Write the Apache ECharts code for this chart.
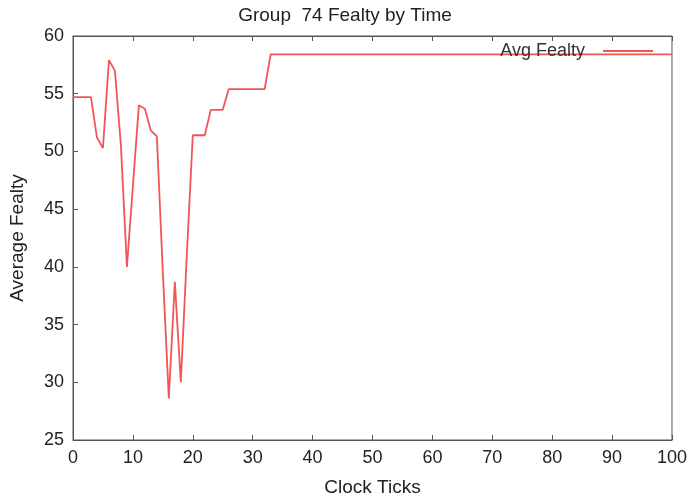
<!DOCTYPE html>
<html>
<head>
<meta charset="utf-8">
<script src="https://cdn.jsdelivr.net/npm/echarts@6/dist/echarts.min.js"></script>
<style>html,body{margin:0;padding:0;background:#fff;}#c{width:690px;height:502px;}</style>
</head>
<body>
<div id="c"></div>
<script>
var clockTicks = [0,1,2,3,4,5,6,7,8,9,10,11,12,13,14,15,16,17,18,19,20,21,22,23,24,25,26,27,28,29,30,31,32,33,100];
var avgFealty = [54.7,54.7,54.7,54.7,51.2,50.3,57.9,57.0,50.5,40.0,47.0,54.0,53.7,51.8,51.3,39.5,28.6,38.7,30.0,41.0,51.4,51.4,51.4,53.6,53.6,53.6,55.4,55.4,55.4,55.4,55.4,55.4,55.4,58.4,58.4];
var seriesName = 'Avg Fealty';
var titleText = 'Group  74 Fealty by Time';
var xName = 'Clock Ticks';
var yName = 'Average Fealty';

var font = 'Liberation Sans, Arial, sans-serif';
var axisCol = '#555';
var chart = echarts.init(document.getElementById('c'));
chart.setOption({
  animation: false,
  backgroundColor: '#fff',
  title: {text: titleText, left: 'center', top: 1, textStyle: {fontFamily: font, fontSize: 19, fontWeight: 'normal', color: '#222'}},
  legend: {
    data: [seriesName], right: 32, top: 37, align: 'right',
    icon: 'rect', itemWidth: 50, itemHeight: 2,
    textStyle: {fontFamily: font, fontSize: 18, color: '#333', padding: [0, 13, 0, 0]}
  },
  grid: {left: 72, right: 15, top: 36, bottom: 59, show: true, borderColor: axisCol, borderWidth: 1},
  xAxis: [{
    type: 'value', min: 0, max: 100, interval: 10,
    name: xName, nameLocation: 'middle', nameGap: 38,
    nameTextStyle: {fontFamily: font, fontSize: 19, color: '#222'},
    axisLine: {lineStyle: {color: axisCol}},
    axisTick: {inside: true, length: 5, lineStyle: {color: axisCol}},
    axisLabel: {fontFamily: font, fontSize: 18, color: '#222', margin: 9},
    splitLine: {show: false}
  }, {
    type: 'value', min: 0, max: 100, interval: 10, position: 'top',
    axisLine: {lineStyle: {color: axisCol}},
    axisTick: {inside: true, length: 5, lineStyle: {color: axisCol}},
    axisLabel: {show: false}, splitLine: {show: false}
  }],
  yAxis: {
    type: 'value', min: 25, max: 60, interval: 5,
    name: yName, nameLocation: 'middle', nameGap: 46,
    nameTextStyle: {fontFamily: font, fontSize: 19, color: '#222'},
    axisLine: {show: true, lineStyle: {color: axisCol}},
    axisTick: {show: true, inside: true, length: 5, lineStyle: {color: axisCol}},
    axisLabel: {fontFamily: font, fontSize: 18, color: '#222', margin: 9},
    splitLine: {show: false}
  },
  series: [{
    name: seriesName, type: 'line', showSymbol: false, symbol: 'none',
    data: clockTicks.map(function (x, i) { return [x, avgFealty[i]]; }),
    lineStyle: {color: '#f25555', width: 1.8},
    itemStyle: {color: '#f25555'}
  }]
});
</script>
</body>
</html>
